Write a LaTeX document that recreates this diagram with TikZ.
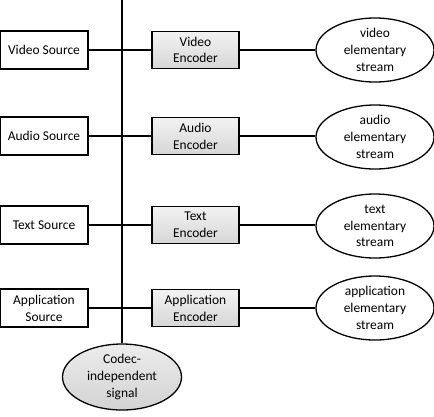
\documentclass[tikz,border=0pt]{standalone}
\usepackage{fontspec}
\setmainfont{Carlito}
\usetikzlibrary{shapes.geometric}
\begin{document}
\begin{tikzpicture}[x=1bp,y=-1bp,
  every node/.style={font=\fontsize{13.5}{16.8}\selectfont, align=center, inner sep=0pt},
  srcbox/.style={draw, line width=1.3bp, fill=white, minimum width=88bp, minimum height=38bp},
  encbox/.style={draw, line width=1.1bp, top color=gray!10, bottom color=gray!32, minimum width=87bp, minimum height=37bp},
  stream/.style={draw, ellipse, line width=1.3bp, fill=white, minimum width=118bp, minimum height=64bp},
  codec/.style={draw, ellipse, line width=1.3bp, top color=gray!15, bottom color=gray!35, minimum width=119bp, minimum height=66bp},
  wire/.style={line width=2.2bp}
]
\useasboundingbox (0,0) rectangle (434,416);
\coordinate (top) at (122,-2);
\node[codec] (cod) at (122,377) {Codec-\\independent\\signal};
\draw[wire] (top) -- (cod.north);

\node[srcbox] (vs) at (44,50) {Video Source};
\node[srcbox] (as) at (44,136) {Audio Source};
\node[srcbox] (ts) at (44,225) {Text Source};
\node[srcbox] (aps) at (44,308) {Application\\Source};

\node[encbox] (ve) at (195.5,50) {Video\\Encoder};
\node[encbox] (ae) at (195.5,136) {Audio\\Encoder};
\node[encbox] (te) at (195.5,225) {Text\\Encoder};
\node[encbox] (ape) at (195.5,308) {Application\\Encoder};

\node[stream] (vst) at (375,50) {video\\elementary\\stream};
\node[stream] (ast) at (375,137) {audio\\elementary\\stream};
\node[stream] (tst) at (375,226) {text\\elementary\\stream};
\node[stream] (apst) at (375,308) {application\\elementary\\stream};

\foreach \s/\e/\o in {vs/ve/vst, as/ae/ast, ts/te/tst, aps/ape/apst}{
  \draw[wire] (\s.east) -- (\e.west);
  \draw[wire] (\e.east) -- (\e.east -| \o.west);
}
\end{tikzpicture}
\end{document}
